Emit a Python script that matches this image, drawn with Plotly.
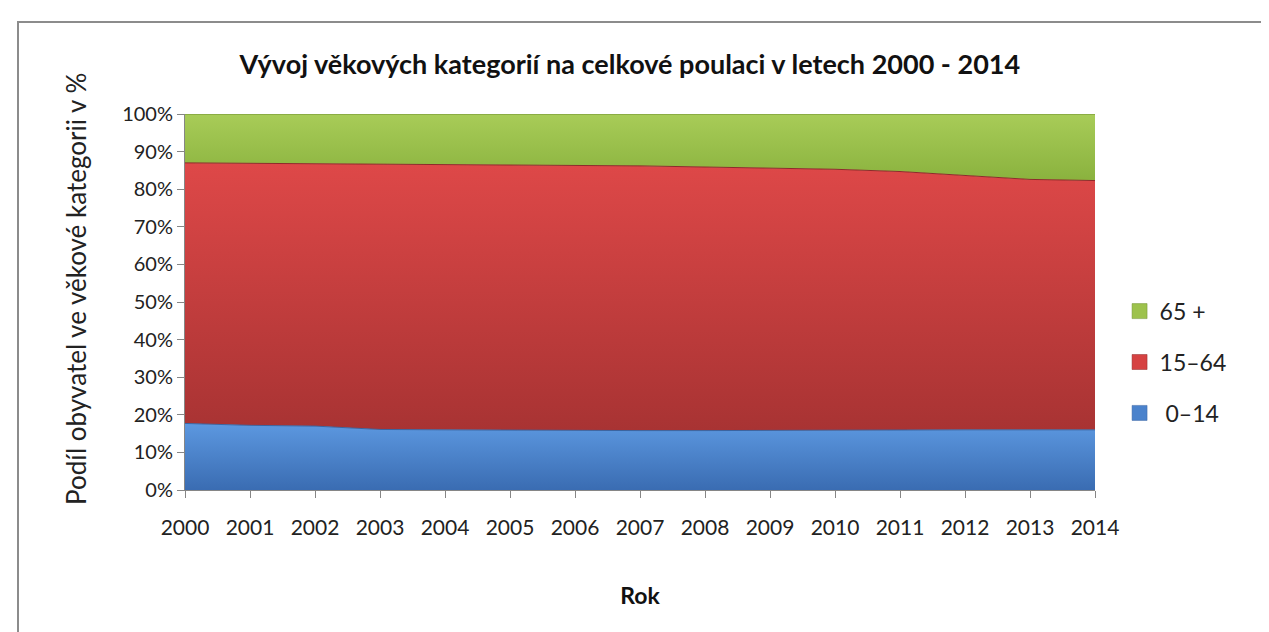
import plotly.graph_objects as go

years = [str(y) for y in range(2000, 2015)]
age_0_14 = [17.7, 17.2, 17.0, 16.1, 16.0, 15.9, 15.8, 15.8, 15.8, 15.9, 16.0, 16.0, 16.0, 16.0, 16.0]
age_15_64 = [69.3, 69.7, 69.9, 70.7, 70.6, 70.6, 70.6, 70.4, 70.1, 69.6, 69.3, 68.7, 67.6, 66.6, 66.3]
age_65 = [13.0, 13.1, 13.1, 13.2, 13.4, 13.5, 13.6, 13.8, 14.1, 14.5, 14.7, 15.3, 16.4, 17.4, 17.7]

series = [
    (" 0–14", age_0_14, "#4A82CC", [[0, "#3A6CB2"], [1, "#5C98E0"]], "#3A64A0"),
    ("15–64", age_15_64, "#D64242", [[0, "#A83333"], [1, "#DE4848"]], "#8E2A2A"),
    ("65 +", age_65, "#9DC24C", [[0, "#8AB23E"], [1, "#A8CC58"]], "#6E8E30"),
]

FONT = "Lato, Open Sans, sans-serif"
fig = go.Figure()
for i, (name, vals, col, cs, lc) in enumerate(series):
    fig.add_trace(go.Scatter(
        x=years, y=vals, mode="lines", stackgroup="one",
        line=dict(width=1, color=lc), fillcolor=col,
        fillgradient=dict(type="vertical", colorscale=cs),
        showlegend=False, hoverinfo="skip",
    ))
for i, (name, vals, col, cs, lc) in enumerate(reversed(series)):
    fig.add_trace(go.Scatter(
        x=[None], y=[None], mode="markers", name=name, legendgroup="g" + str(i),
        marker=dict(symbol="square", size=15, color=col, line=dict(width=0.5, color=lc)),
    ))

L, R, T, B = 177, 182, 106, 150
W = 1269 - L - R
H = 632 - T - B
def px(x):
    return (x - L) / W
def py(y):
    return (632 - B - y) / H

fig.update_layout(
    width=1269, height=632,
    margin=dict(l=L, r=R, t=T, b=B),
    paper_bgcolor="white", plot_bgcolor="white",
    font=dict(family=FONT, size=20, color="#222222"),
    title=dict(text="<b>Vývoj věkových kategorií na celkové poulaci v letech 2000 - 2014</b>",
               x=0.49, xanchor="center", y=0.91, yanchor="middle",
               font=dict(family=FONT, size=27, color="#111111")),
    legend=dict(x=1.027, xanchor="left", y=0.34, yanchor="middle",
                traceorder="grouped", tracegroupgap=18,
                font=dict(family=FONT, size=23, color="#222222"), bgcolor="rgba(0,0,0,0)"),
    showlegend=True,
)
fig.update_xaxes(
    type="category", range=[0, 14], showgrid=False, zeroline=False,
    showline=True, linecolor="#868686", linewidth=1,
    ticks="outside", ticklen=7, tickcolor="#868686", ticklabelstandoff=12,
    tickfont=dict(family=FONT, size=21, color="#222222"),
    title=dict(text="<b>Rok</b>", font=dict(family=FONT, size=23, color="#111111"), standoff=49),
)
fig.update_yaxes(
    range=[0, 100], dtick=10, ticksuffix="%", showgrid=False, zeroline=False,
    showline=True, linecolor="#868686", linewidth=1,
    ticks="outside", ticklen=7, tickcolor="#868686",
    tickfont=dict(family=FONT, size=20, color="#222222"),
)
fig.add_annotation(text="Podíl obyvatel ve věkové kategorii v %", textangle=-90,
                   xref="paper", yref="paper", x=px(68), y=py(281),
                   xanchor="center", yanchor="middle", showarrow=False,
                   font=dict(family=FONT, size=26, color="#222222"))
fig.add_shape(type="rect", xref="paper", yref="paper",
              x0=px(10), x1=px(1259), y0=py(625), y1=py(14),
              line=dict(color="#8C8C8C", width=2), fillcolor="rgba(0,0,0,0)", layer="below")

fig.write_html("out.html")
